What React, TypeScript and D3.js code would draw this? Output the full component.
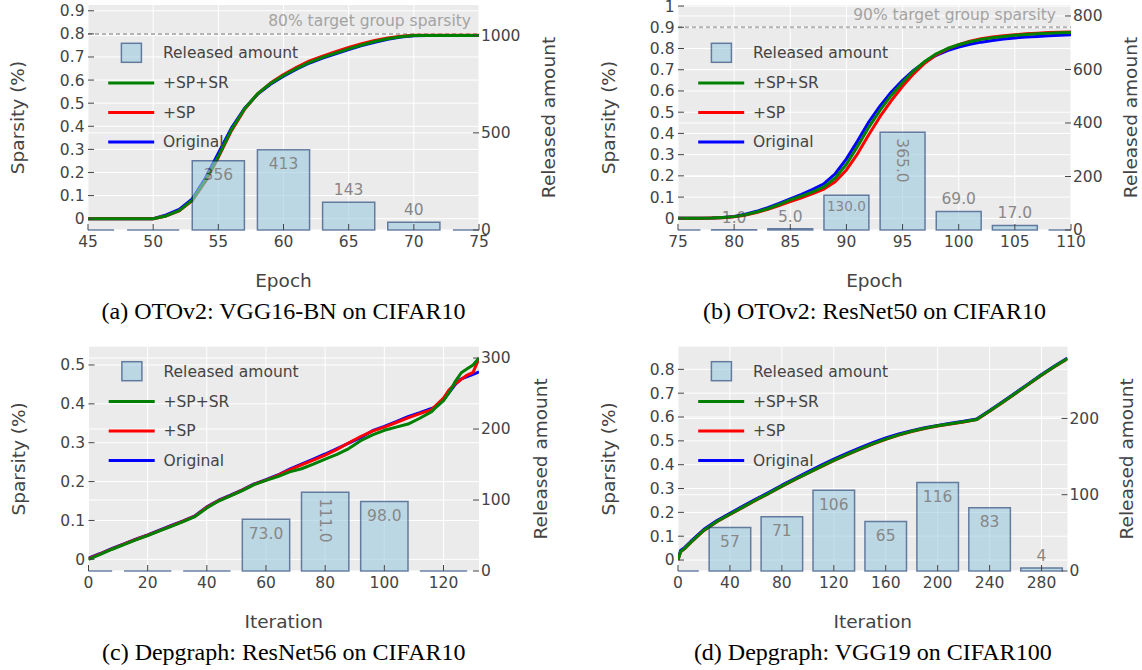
import React from 'react'
import * as d3 from 'd3'

// ---------- (a) OTOv2: VGG16-BN on CIFAR10 ----------
const aEpochs = [45, 46, 47, 48, 49, 50, 51, 52, 53, 54, 55, 56, 57, 58, 59, 60, 61, 62, 63, 64, 65, 66, 67, 68, 69, 70, 71, 72, 73, 74, 75]
const aSpSr = [0, 0, 0, 0, 0, 0, 0.012, 0.035, 0.08, 0.165, 0.27, 0.385, 0.475, 0.54, 0.585, 0.62, 0.65, 0.677, 0.698, 0.717, 0.735, 0.752, 0.767, 0.779, 0.788, 0.793, 0.793, 0.793, 0.793, 0.793, 0.793]
const aSp = [0, 0, 0, 0, 0, 0, 0.012, 0.034, 0.078, 0.16, 0.265, 0.38, 0.472, 0.54, 0.587, 0.624, 0.655, 0.683, 0.704, 0.723, 0.741, 0.757, 0.771, 0.782, 0.79, 0.794, 0.794, 0.794, 0.794, 0.794, 0.794]
const aOrig = [0, 0, 0, 0, 0, 0, 0.016, 0.04, 0.086, 0.175, 0.284, 0.392, 0.477, 0.538, 0.582, 0.617, 0.647, 0.674, 0.695, 0.714, 0.732, 0.749, 0.764, 0.777, 0.786, 0.792, 0.793, 0.793, 0.793, 0.793, 0.793]
const aBarX = [45, 50, 55, 60, 65, 70, 75]
const aBarVal = [0, 0, 356, 413, 143, 40, 0]
const aXTicks = [45, 50, 55, 60, 65, 70, 75]
const aYTicks = [0, 0.1, 0.2, 0.3, 0.4, 0.5, 0.6, 0.7, 0.8, 0.9]
const aY2Ticks = [0, 500, 1000]

// ---------- (b) OTOv2: ResNet50 on CIFAR10 ----------
const bEpochs = [75, 76, 77, 78, 79, 80, 81, 82, 83, 84, 85, 86, 87, 88, 89, 90, 91, 92, 93, 94, 95, 96, 97, 98, 99, 100, 101, 102, 103, 104, 105, 106, 107, 108, 109, 110]
const bSpSr = [0, 0, 0, 0.001, 0.004, 0.008, 0.017, 0.03, 0.045, 0.065, 0.087, 0.105, 0.125, 0.148, 0.19, 0.255, 0.34, 0.43, 0.51, 0.58, 0.64, 0.695, 0.74, 0.775, 0.8, 0.818, 0.832, 0.843, 0.851, 0.857, 0.862, 0.866, 0.869, 0.872, 0.874, 0.876]
const bSp = [0, 0, 0, 0.001, 0.003, 0.007, 0.015, 0.027, 0.042, 0.06, 0.079, 0.097, 0.116, 0.138, 0.172, 0.228, 0.305, 0.395, 0.48, 0.555, 0.622, 0.682, 0.732, 0.77, 0.798, 0.818, 0.834, 0.846, 0.854, 0.86, 0.865, 0.869, 0.872, 0.875, 0.877, 0.878]
const bOrig = [0, 0, 0, 0.001, 0.004, 0.009, 0.019, 0.033, 0.05, 0.07, 0.092, 0.113, 0.136, 0.163, 0.21, 0.28, 0.365, 0.455, 0.53, 0.595, 0.65, 0.698, 0.737, 0.768, 0.79, 0.807, 0.82, 0.83, 0.838, 0.845, 0.85, 0.854, 0.857, 0.86, 0.863, 0.865]
const bBarX = [75, 80, 85, 90, 95, 100, 105, 110]
const bBarVal = [0, 1, 5, 130, 365, 69, 17, 0]
const bXTicks = [75, 80, 85, 90, 95, 100, 105, 110]
const bYTicks = [0, 0.1, 0.2, 0.3, 0.4, 0.5, 0.6, 0.7, 0.8, 0.9, 1]
const bY2Ticks = [0, 200, 400, 600, 800]

// ---------- (c) Depgraph: ResNet56 on CIFAR10 ----------
const cIters = [0, 4, 8, 12, 16, 20, 24, 28, 32, 36, 40, 44, 48, 52, 56, 60, 64, 68, 72, 76, 80, 84, 88, 92, 96, 100, 104, 108, 112, 116, 118, 120, 122, 124, 126, 128, 130, 132]
const cSpSr = [0, 0.013, 0.026, 0.038, 0.05, 0.061, 0.073, 0.085, 0.097, 0.11, 0.132, 0.15, 0.163, 0.177, 0.192, 0.203, 0.213, 0.225, 0.233, 0.245, 0.258, 0.27, 0.285, 0.305, 0.32, 0.332, 0.34, 0.348, 0.363, 0.38, 0.395, 0.408, 0.43, 0.458, 0.48, 0.49, 0.5, 0.518]
const cSp = [0.002, 0.014, 0.027, 0.039, 0.051, 0.062, 0.074, 0.086, 0.098, 0.111, 0.134, 0.151, 0.164, 0.178, 0.193, 0.204, 0.216, 0.23, 0.243, 0.255, 0.268, 0.283, 0.3, 0.316, 0.33, 0.34, 0.352, 0.364, 0.375, 0.385, 0.4, 0.415, 0.437, 0.452, 0.463, 0.474, 0.481, 0.517]
const cOrig = [0.003, 0.015, 0.028, 0.04, 0.052, 0.063, 0.075, 0.087, 0.099, 0.112, 0.135, 0.152, 0.165, 0.179, 0.194, 0.205, 0.217, 0.232, 0.245, 0.258, 0.271, 0.285, 0.299, 0.313, 0.331, 0.342, 0.354, 0.367, 0.377, 0.388, 0.395, 0.41, 0.43, 0.45, 0.464, 0.47, 0.476, 0.482]
const cBarX = [0, 20, 40, 60, 80, 100, 120]
const cBarVal = [0, 0, 0, 73, 111, 98, 0]
const cXTicks = [0, 20, 40, 60, 80, 100, 120]
const cYTicks = [0, 0.1, 0.2, 0.3, 0.4, 0.5]
const cY2Ticks = [0, 100, 200, 300]

// ---------- (d) Depgraph: VGG19 on CIFAR100 ----------
const dIters = [0, 2, 5, 10, 20, 30, 40, 50, 60, 70, 80, 90, 100, 110, 120, 130, 140, 150, 160, 170, 180, 190, 200, 210, 220, 230, 240, 250, 260, 270, 280, 290, 300]
const dSpSr = [0, 0.035, 0.048, 0.075, 0.125, 0.162, 0.192, 0.222, 0.252, 0.28, 0.31, 0.338, 0.365, 0.392, 0.418, 0.442, 0.465, 0.487, 0.507, 0.525, 0.54, 0.553, 0.563, 0.572, 0.58, 0.59, 0.625, 0.662, 0.7, 0.738, 0.776, 0.812, 0.845]
const dSp = [0, 0.034, 0.047, 0.074, 0.124, 0.161, 0.191, 0.221, 0.251, 0.279, 0.309, 0.337, 0.364, 0.391, 0.417, 0.441, 0.464, 0.486, 0.506, 0.524, 0.539, 0.552, 0.562, 0.571, 0.579, 0.589, 0.624, 0.661, 0.699, 0.737, 0.775, 0.811, 0.844]
const dOrig = [0.004, 0.04, 0.052, 0.079, 0.129, 0.166, 0.196, 0.226, 0.256, 0.284, 0.314, 0.342, 0.37, 0.397, 0.423, 0.447, 0.47, 0.492, 0.512, 0.529, 0.543, 0.555, 0.565, 0.574, 0.582, 0.592, 0.627, 0.664, 0.702, 0.74, 0.778, 0.814, 0.847]
const dBarX = [0, 40, 80, 120, 160, 200, 240, 280]
const dBarVal = [0, 57, 71, 106, 65, 116, 83, 4]
const dXTicks = [0, 40, 80, 120, 160, 200, 240, 280]
const dYTicks = [0, 0.1, 0.2, 0.3, 0.4, 0.5, 0.6, 0.7, 0.8]
const dY2Ticks = [0, 100, 200]

const seriesNames = ['+SP+SR', '+SP', 'Original']
const seriesColors = ['#008000', '#ff0000', '#0000ff']

const FONT = '"DejaVu Sans", Verdana, sans-serif'
const SERIF = '"Liberation Serif", "Times New Roman", serif'
const TXT = '#444'
const BG = '#ebebeb'
const BAR_FILL = 'rgb(158,202,225)'
const BAR_LINE = 'rgb(8,48,107)'
const FS = 15.5

// rough DejaVu Sans advance widths for bar labels (digits and dot)
const labelWidth = (s: string) => s.split('').reduce((w, c) => w + (c === '.' ? 0.318 : 0.636), 0) * FS

function ChartPanel({ p }: { p: any }) {
  const { left, right, top, bottom } = p.box
  const x = d3.scaleLinear().domain(p.xDomain).range([left, right])
  const y = d3.scaleLinear().domain(p.yDomain).range([bottom, top])
  const y2 = d3.scaleLinear().domain(p.y2Domain).range([bottom, top])
  const clipId = `clip-${p.id}`
  const midY = (top + bottom) / 2
  const midX = (left + right) / 2

  const lineGen = d3.line<number>()
    .x((_, i) => x(p.xs[i]))
    .y(v => y(v))

  // draw Original first so +SP+SR ends on top
  const order = [2, 1, 0]

  return (
    <g>
      <defs>
        <clipPath id={clipId}>
          <rect x={left} y={top} width={right - left} height={bottom - top + 1.2} />
        </clipPath>
      </defs>
      <rect x={left} y={top} width={right - left} height={bottom - top} fill={BG} />

      {/* grid */}
      {p.xTicks.map((t: number) => (
        <line key={`gx${t}`} x1={x(t)} x2={x(t)} y1={top} y2={bottom} stroke="#fff" strokeWidth={1} />
      ))}
      {p.yTicks.map((t: number) => (
        <line key={`gy${t}`} x1={left} x2={right} y1={y(t)} y2={y(t)} stroke="#fff" strokeWidth={1} />
      ))}
      {p.y2Ticks.map((t: number) => (
        <line key={`gy2${t}`} x1={left} x2={right} y1={y2(t)} y2={y2(t)} stroke="#fff" strokeWidth={1} />
      ))}

      {/* target line */}
      {p.target && (
        <g>
          <line x1={left} x2={right} y1={y(p.target.value)} y2={y(p.target.value)}
            stroke="#b4b4b4" strokeWidth={2} strokeDasharray="4,3" />
          <text x={right - p.target.offset} y={y(p.target.value) - 13} dy="0.35em" textAnchor="end"
            fontFamily={FONT} fontSize={FS} fill="#a3a3a3">{p.target.text}</text>
        </g>
      )}

      {/* sparsity lines */}
      <g clipPath={`url(#${clipId})`}>
        {order.map(k => (
          <path key={k} d={lineGen(p.series[k]) || ''} fill="none" stroke={seriesColors[k]}
            strokeWidth={3} strokeLinejoin="round" />
        ))}
      </g>

      {/* released amount bars (secondary axis) */}
      <g opacity={0.6}>
        <g clipPath={`url(#${clipId})`}>
          {p.barX.map((b: number, i: number) => {
            const x0 = x(b - p.barWidth / 2)
            const x1 = x(b + p.barWidth / 2)
            const yt = y2(p.barVal[i])
            return (
              <path key={`b${b}`} d={`M${x0},${bottom}V${yt}H${x1}V${bottom}Z`}
                fill={BAR_FILL} stroke={BAR_LINE} strokeWidth={1.5} />
            )
          })}
        </g>
        {p.barX.map((b: number, i: number) => {
          const v = p.barVal[i]
          if (!v) return null
          const label = v.toFixed(p.decimals)
          const bw = x(b + p.barWidth / 2) - x(b - p.barWidth / 2)
          const yt = y2(v)
          const bh = bottom - yt
          const tw = labelWidth(label)
          const cx = x(b)
          const common = { fontFamily: FONT, fill: TXT, key: `t${b}` }
          if (bh >= 30 && tw + 6 <= bw) {
            return <text {...common} x={cx} y={yt + 14} dy="0.35em" textAnchor="middle" fontSize={FS}>{label}</text>
          }
          if (bh >= tw + 12) {
            return <text {...common} transform={`translate(${cx},${yt + 6}) rotate(90)`} dy="0.35em"
              textAnchor="start" fontSize={FS}>{label}</text>
          }
          if (bh >= 30) {
            const fs2 = FS * (bw - 6) / tw
            return <text {...common} x={cx} y={yt + 3 + fs2 * 0.6} dy="0.35em" textAnchor="middle" fontSize={fs2}>{label}</text>
          }
          return <text {...common} x={cx} y={yt - 12.5} dy="0.35em" textAnchor="middle" fontSize={FS}>{label}</text>
        })}
      </g>

      {/* ticks (inside) and tick labels */}
      {p.xTicks.map((t: number) => (
        <g key={`tx${t}`}>
          <line x1={x(t)} x2={x(t)} y1={bottom - 6} y2={bottom} stroke={TXT} strokeWidth={1} />
          <text x={x(t)} y={bottom + 11.5} dy="0.35em" textAnchor="middle" fontFamily={FONT} fontSize={FS} fill={TXT}>{t}</text>
        </g>
      ))}
      {p.yTicks.map((t: number) => (
        <g key={`ty${t}`}>
          <line x1={left} x2={left + 6} y1={y(t)} y2={y(t)} stroke={TXT} strokeWidth={1} />
          <text x={left - 3.5} y={y(t)} dy="0.35em" textAnchor="end" fontFamily={FONT} fontSize={FS} fill={TXT}>{String(+t.toFixed(1))}</text>
        </g>
      ))}
      {p.y2Ticks.map((t: number) => (
        <g key={`ty2${t}`}>
          <line x1={right - 6} x2={right} y1={y2(t)} y2={y2(t)} stroke={TXT} strokeWidth={1} />
          <text x={right + 2} y={y2(t)} dy="0.35em" textAnchor="start" fontFamily={FONT} fontSize={FS} fill={TXT}>{t}</text>
        </g>
      ))}

      {/* legend */}
      <g>
        <rect x={left + 33.4} y={top + p.legendTop - 9.5} width={20} height={19}
          fill={BAR_FILL} stroke={BAR_LINE} strokeWidth={1.5} opacity={0.6} />
        <text x={left + 75} y={top + p.legendTop} dy="0.35em" fontFamily={FONT} fontSize={FS} fill={TXT}>Released amount</text>
        {seriesNames.map((name, k) => {
          const ly = top + p.legendTop + 30.2 + k * 29.5
          return (
            <g key={name}>
              <line x1={left + 20.2} x2={left + 66.2} y1={ly} y2={ly} stroke={seriesColors[k]} strokeWidth={3} />
              <text x={left + 75} y={ly} dy="0.35em" fontFamily={FONT} fontSize={FS} fill={TXT}>{name}</text>
            </g>
          )
        })}
      </g>

      {/* axis titles */}
      <text transform={`translate(${p.leftTitleX},${midY}) rotate(-90)`} dy="0.35em" textAnchor="middle"
        fontFamily={FONT} fontSize={18.5} fill={TXT}>Sparsity (%)</text>
      <text transform={`translate(${p.rightTitleX},${midY}) rotate(-90)`} dy="0.35em" textAnchor="middle"
        fontFamily={FONT} fontSize={18.5} fill={TXT}>Released amount</text>
      <text x={midX} y={bottom + 50.7} dy="0.35em" textAnchor="middle"
        fontFamily={FONT} fontSize={18.5} fill={TXT}>{p.xTitle}</text>

      {/* caption */}
      <text x={midX} y={bottom + 88.5} textAnchor="middle" fontFamily={SERIF} fontSize={24} fill="#000">{p.caption}</text>
    </g>
  )
}

const panels = [
  {
    id: 'a', box: { left: 88, right: 479, top: 5, bottom: 230 },
    xDomain: [45, 75], yDomain: [-0.049, 0.925], y2Domain: [0, 1158],
    xs: aEpochs, series: [aSpSr, aSp, aOrig],
    barX: aBarX, barVal: aBarVal, barWidth: 4, decimals: 0,
    xTicks: aXTicks, yTicks: aYTicks, y2Ticks: aY2Ticks,
    target: { value: 0.8, text: '80% target group sparsity', offset: 8 },
    legendTop: 47.8, leftTitleX: 18, rightTitleX: 548.5,
    xTitle: 'Epoch', caption: '(a) OTOv2: VGG16-BN on CIFAR10',
  },
  {
    id: 'b', box: { left: 678, right: 1071, top: 5, bottom: 230 },
    xDomain: [75, 110], yDomain: [-0.055, 1.005], y2Domain: [0, 841],
    xs: bEpochs, series: [bSpSr, bSp, bOrig],
    barX: bBarX, barVal: bBarVal, barWidth: 4, decimals: 1,
    xTicks: bXTicks, yTicks: bYTicks, y2Ticks: bY2Ticks,
    target: { value: 0.9, text: '90% target group sparsity', offset: 15 },
    legendTop: 47.8, leftTitleX: 608.5, rightTitleX: 1131,
    xTitle: 'Epoch', caption: '(b) OTOv2: ResNet50 on CIFAR10',
  },
  {
    id: 'c', box: { left: 88.5, right: 479, top: 346.7, bottom: 571 },
    xDomain: [0, 132], yDomain: [-0.03, 0.547], y2Domain: [0, 316],
    xs: cIters, series: [cSpSr, cSp, cOrig],
    barX: cBarX, barVal: cBarVal, barWidth: 16, decimals: 1,
    xTicks: cXTicks, yTicks: cYTicks, y2Ticks: cY2Ticks,
    target: null,
    legendTop: 24.5, leftTitleX: 18.3, rightTitleX: 540.7,
    xTitle: 'Iteration', caption: '(c) Depgraph: ResNet56 on CIFAR10',
  },
  {
    id: 'd', box: { left: 678, right: 1067.5, top: 346.7, bottom: 571 },
    xDomain: [0, 300], yDomain: [-0.046, 0.895], y2Domain: [0, 294],
    xs: dIters, series: [dSpSr, dSp, dOrig],
    barX: dBarX, barVal: dBarVal, barWidth: 32, decimals: 0,
    xTicks: dXTicks, yTicks: dYTicks, y2Ticks: dY2Ticks,
    target: null,
    legendTop: 24.5, leftTitleX: 608.2, rightTitleX: 1127,
    xTitle: 'Iteration', caption: '(d) Depgraph: VGG19 on CIFAR100',
  },
]

export default function App() {
  return (
    <svg width={1142} height={670} style={{ position: 'absolute', left: 0, top: 0, background: '#fff' }}>
      {panels.map(p => <ChartPanel key={p.id} p={p} />)}
    </svg>
  )
}
